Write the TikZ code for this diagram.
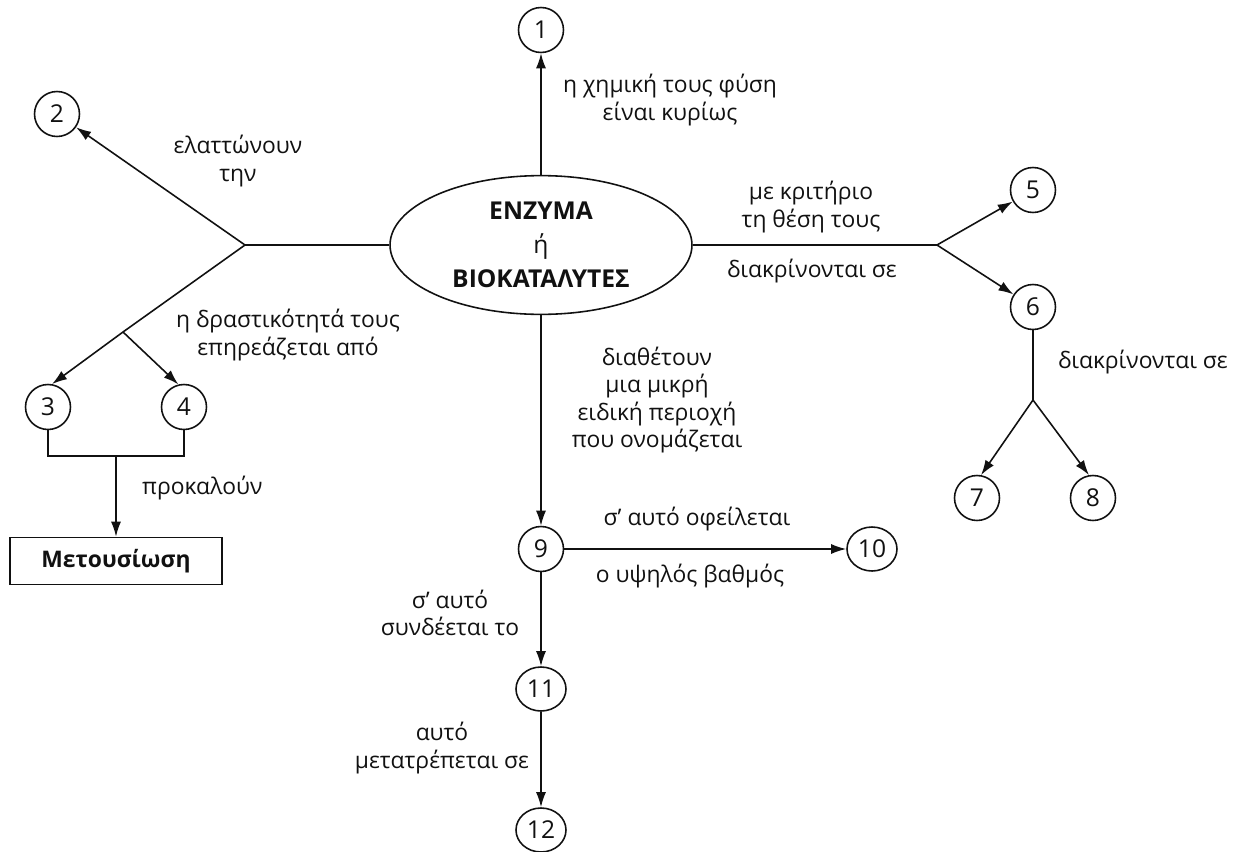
\documentclass[tikz,border=0pt]{standalone}
\usepackage{fontspec}
\setmainfont{Open Sans}
\usepackage{tikz}
\usetikzlibrary{arrows.meta,positioning,shapes.geometric}
\definecolor{mapink}{HTML}{111111}

\begin{document}
\begin{tikzpicture}[x=0.02cm,y=-0.02cm, every node/.style={font=\fontsize{13}{15.5}\selectfont,text=mapink}]
    \tikzstyle{num}=[circle,draw=mapink,line width=0.9pt,minimum size=0.9cm,inner sep=0pt,font=\fontsize{14}{16}\selectfont]
    \tikzstyle{numw}=[ellipse,draw=mapink,line width=0.9pt,minimum width=1.0cm,minimum height=0.88cm,inner sep=0pt,font=\fontsize{14}{16}\selectfont]
    \tikzstyle{link}=[line width=0.9pt,draw=mapink]
    \tikzstyle{arr}=[link,-{Latex[length=3mm,width=2mm]}]
    \tikzstyle{lbl}=[align=center]
    \useasboundingbox (0,0) rectangle (1235,852);
    % central concept
    \node[ellipse,draw=mapink,line width=0.9pt,minimum width=6.04cm,minimum height=2.4cm,align=center,font=\fontsize{14}{19.5}\selectfont\bfseries] (enz) at (541,245) {ΕΝΖΥΜΑ\\{\mdseries ή}\\ΒΙΟΚΑΤΑΛΥΤΕΣ};
    % numbered blanks
    \node[num] (c1) at (541,30) {1};
    \node[num] (c2) at (57,114) {2};
    \node[num] (c3) at (48,407) {3};
    \node[num] (c4) at (184,407) {4};
    \node[num] (c5) at (1033,190) {5};
    \node[num] (c6) at (1033,307) {6};
    \node[num] (c7) at (977,498) {7};
    \node[num] (c8) at (1093,498) {8};
    \node[num] (c9) at (541,549) {9};
    \node[numw] (c10) at (872,549) {10};
    \node[numw] (c11) at (541,689) {11};
    \node[numw] (c12) at (541,830) {12};
    \node[draw=mapink,line width=0.9pt,minimum width=4.24cm,minimum height=0.94cm,font=\fontsize{13}{15}\selectfont\bfseries] (met) at (116,561) {Μετουσίωση};
    % branch points
    \coordinate (jl) at (245,245);
    \coordinate (bl) at (123,332);
    \coordinate (br) at (116,456);
    \coordinate (jr) at (937,245);
    \coordinate (j6) at (1033,400);
    % connectors
    \draw[arr] (enz.north) -- (c1);
    \draw[link] (enz.west) -- (jl);
    \draw[arr] (jl) -- (c2);
    \draw[arr] (jl) -- (bl) -- (c3.80);
    \draw[arr] (bl) -- (c4.104);
    \draw[link] (c3.south) |- (br) -| (c4.south);
    \draw[arr] (br) -- (met);
    \draw[link] (enz.east) -- (jr);
    \draw[arr] (jr) -- (c5);
    \draw[arr] (jr) -- (c6);
    \draw[link] (c6) -- (j6);
    \draw[arr] (j6) -- (c7.80);
    \draw[arr] (j6) -- (c8.100);
    \draw[arr] (enz.south) -- (c9);
    \draw[arr] (c9) -- (c10);
    \draw[arr] (c9) -- (c11);
    \draw[arr] (c11) -- (c12);
    % link words
    \node[lbl] (tchem) at (670,100) {η χημική τους φύση\\είναι κυρίως};
    \node[lbl] (treduce) at (238,161) {ελαττώνουν\\την};
    \node[lbl] (tact) at (288,335) {η δραστικότητά τους\\επηρεάζεται από};
    \node[anchor=west] (tcause) at (136,488) {προκαλούν};
    \node[lbl] (tcrit) at (811,207) {με κριτήριο\\τη θέση τους};
    \node (tdist) at (812,271) {διακρίνονται σε};
    \node (tdist2) at (1143,362) {διακρίνονται σε};
    \node[lbl] (tsite) at (657,400) {διαθέτουν\\μια μικρή\\ειδική περιοχή\\που ονομάζεται};
    \node (towe) at (697,519) {σ’ αυτό οφείλεται};
    \node (tdeg) at (690,576) {ο υψηλός βαθμός};
    \node[lbl] (tbind) at (450,613) {σ’ αυτό\\συνδέεται το};
    \node[lbl] (tconv) at (442,748) {αυτό\\μετατρέπεται σε};
\end{tikzpicture}
\end{document}
